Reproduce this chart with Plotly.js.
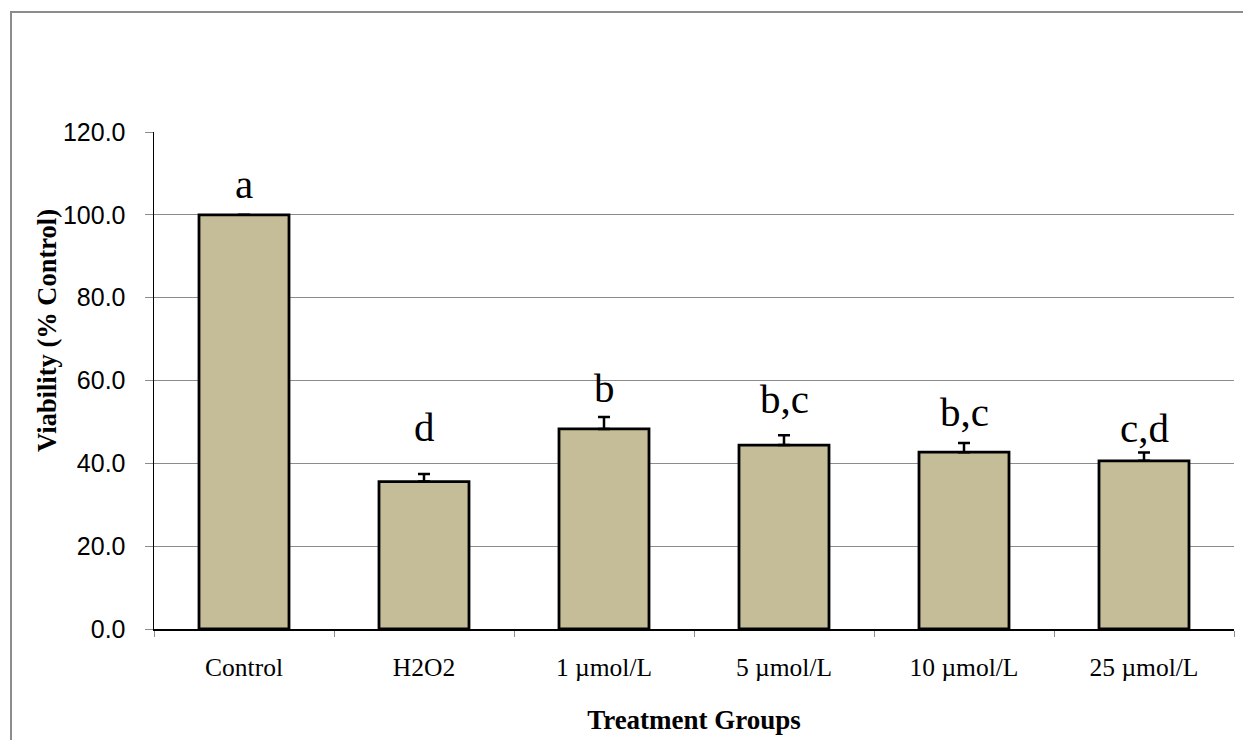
<!DOCTYPE html>
<html>
<head>
<meta charset="utf-8">
<script src="https://cdn.plot.ly/plotly-3.0.1.min.js"></script>
<style>
  html, body { margin: 0; padding: 0; background: #ffffff; overflow: hidden; }
  #frame { position: absolute; left: 10px; top: 11px; width: 1240px; height: 740px;
           border-left: 2px solid #8c8c8c; border-top: 2px solid #8c8c8c; }
  #chart { position: absolute; left: 0; top: 0; width: 1232px; height: 727px; }
</style>
</head>
<body>
<div id="frame"><div id="chart"></div></div>
<script>
// ---- data ----
const categories = ["Control", "H2O2", "1 \u00b5mol/L", "5 \u00b5mol/L", "10 \u00b5mol/L", "25 \u00b5mol/L"];
const viability  = [100.0, 35.6, 48.3, 44.4, 42.7, 40.6];
const errorPlus  = [0.0, 1.8, 2.9, 2.4, 2.2, 2.0];
const letters    = ["a", "d", "b", "b,c", "b,c", "c,d"];
const letterY    = [103.8, 45.1, 54.6, 52.0, 48.7, 45.0];   // baseline heights of the significance letters
const yTicks     = [0, 20, 40, 60, 80, 100, 120];

const trace = {
  type: "bar",
  x: categories,
  y: viability,
  width: 0.5,
  marker: { color: "#C4BD97", line: { color: "#000000", width: 2.8 } },
  error_y: {
    type: "data", symmetric: false,
    array: errorPlus,
    arrayminus: errorPlus.map(() => 0),
    color: "#000000", thickness: 2.5, width: 6
  },
  hoverinfo: "x+y"
};

const annotations = categories.map((c, i) => ({
  x: c, y: letterY[i], xref: "x", yref: "y",
  text: letters[i], showarrow: false,
  xanchor: "center", yanchor: "bottom", yshift: -10,
  font: { family: "Liberation Serif, Times New Roman, serif", size: 41, color: "#000000" }
}));

annotations.push({
  xref: "paper", yref: "paper", x: -0.099, y: 0.60,
  text: "<b>Viability (% Control)</b>", textangle: -90, showarrow: false,
  xanchor: "center", yanchor: "middle",
  font: { family: "Liberation Serif, Times New Roman, serif", size: 26.5, color: "#000000" }
});

const layout = {
  width: 1232, height: 727,
  margin: { l: 142, r: 10, t: 119, b: 111, pad: 0 },
  paper_bgcolor: "rgba(0,0,0,0)",
  plot_bgcolor: "#ffffff",
  showlegend: false,
  bargap: 0.5,
  xaxis: {
    type: "category",
    tickson: "boundaries",
    ticks: "outside", ticklen: 6, tickwidth: 1, tickcolor: "#8c8c8c",
    showline: true, linecolor: "#000000", linewidth: 1.5,
    showgrid: false, zeroline: false,
    tickfont: { family: "Liberation Serif, Times New Roman, serif", size: 25.5, color: "#000000" },
    ticklabelstandoff: 15,
    title: { text: "<b>Treatment Groups</b>", standoff: 29,
             font: { family: "Liberation Serif, Times New Roman, serif", size: 27, color: "#000000" } },
    automargin: false
  },
  yaxis: {
    range: [0, 120],
    tickvals: yTicks,
    tickformat: ".1f",
    ticks: "outside", ticklen: 8, tickwidth: 1, tickcolor: "#8c8c8c",
    showline: true, linecolor: "#000000", linewidth: 1.5,
    showgrid: true, gridcolor: "#8c8c8c", gridwidth: 1,
    zeroline: false,
    tickfont: { family: "Liberation Sans, Arial, sans-serif", size: 25, color: "#000000" },
    ticklabelstandoff: 14,
    automargin: false
  },
  annotations: annotations
};

Plotly.newPlot("chart", [trace], layout, { displayModeBar: false, staticPlot: true });
</script>
</body>
</html>
